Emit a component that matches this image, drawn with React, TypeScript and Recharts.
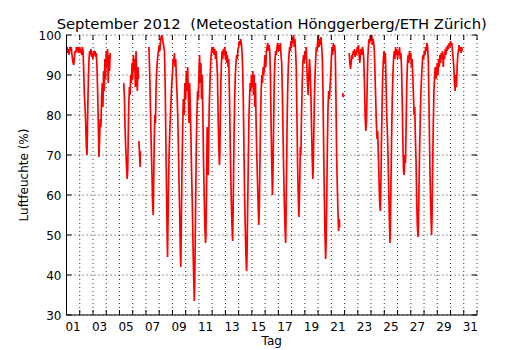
import { LineChart, Line, XAxis, YAxis, CartesianGrid } from "recharts";

// plot frame, in page pixels
const W = 530;
const H = 350;
const PLOT_LEFT = 66.5;
const PLOT_TOP = 35;
const PLOT_RIGHT = 477;
const PLOT_BOTTOM = 315;
const TICK_LEN = 5;
const FONT = "'DejaVu Sans', sans-serif";

const TITLE = "September 2012  (Meteostation Hönggerberg/ETH Zürich)";
const Y_LABEL = "Luftfeuchte (%)";
const X_LABEL = "Tag";

// x is days since 1 Sep 00:00, day boundaries get ticks, labels sit at noon
const dayTicks = Array.from({ length: 32 }, (_, i) => i);
const dayLabels = ["01", "03", "05", "07", "09", "11", "13", "15", "17", "19", "21", "23", "25", "27", "29", "31"];
const humidityTicks = [30, 40, 50, 60, 70, 80, 90, 100];

// (time in days, relative humidity in %), null = gap
const times = [
  0.0, 0.05, 0.1, 0.15, 0.2, 0.25, 0.3, 0.35, 0.4, 0.45, 0.5, 0.55, 0.6, 0.65, 0.7, 0.75, 0.8, 0.85, 0.9, 0.95,
  1.0, 1.05, 1.1, 1.15, 1.2, 1.25, 1.3, 1.35, 1.4, 1.45, 1.5, 1.55, 1.58, 1.62, 1.66, 1.7, 1.75, 1.8, 1.85, 1.9, 1.95,
  2.0, 2.05, 2.1, 2.15, 2.2, 2.25, 2.3, 2.35, 2.4, 2.45, 2.5, 2.55, 2.6, 2.65, 2.7, 2.75, 2.8, 2.85, 2.9, 2.95,
  3.0, 3.05, 3.1, 3.15, 3.2, 3.25, 3.3, 3.7,
  4.32, 4.38, 4.42, 4.47, 4.52, 4.58, 4.62, 4.66, 4.7, 4.75, 4.8, 4.85, 4.9, 4.95,
  5.0, 5.05, 5.1, 5.15, 5.2, 5.25, 5.3, 5.35, 5.4, 5.43, 5.45, 5.47, 5.52, 5.56, 5.58, 5.9,
  6.22, 6.26, 6.3, 6.35, 6.4, 6.45, 6.5, 6.55, 6.58, 6.62, 6.67, 6.72, 6.76, 6.8, 6.85, 6.9, 6.95,
  7.0, 7.05, 7.1, 7.15, 7.2, 7.25, 7.3, 7.35, 7.4, 7.45, 7.5, 7.55, 7.6, 7.63, 7.66, 7.7, 7.75, 7.8, 7.85, 7.9, 7.95,
  8.0, 8.05, 8.1, 8.15, 8.2, 8.25, 8.3, 8.35, 8.4, 8.45, 8.5, 8.55, 8.6, 8.63, 8.67, 8.72, 8.77, 8.82, 8.88, 8.94,
  9.0, 9.05, 9.1, 9.15, 9.2, 9.25, 9.3, 9.35, 9.4, 9.45, 9.5, 9.55, 9.6, 9.65, 9.68, 9.72, 9.76, 9.8, 9.85, 9.9, 9.95,
  10.0, 10.05, 10.1, 10.15, 10.2, 10.25, 10.3, 10.35, 10.4, 10.45, 10.5, 10.53, 10.58, 10.62, 10.66, 10.7, 10.74, 10.78, 10.85, 10.9, 10.95,
  11.0, 11.05, 11.1, 11.15, 11.2, 11.25, 11.3, 11.35, 11.4, 11.45, 11.5, 11.55, 11.58, 11.62, 11.66, 11.7, 11.75, 11.8, 11.85, 11.9, 11.95,
  12.0, 12.05, 12.1, 12.15, 12.2, 12.25, 12.3, 12.35, 12.4, 12.45, 12.5, 12.55, 12.58, 12.62, 12.66, 12.7, 12.75, 12.8, 12.85, 12.9, 12.95,
  13.0, 13.05, 13.1, 13.15, 13.2, 13.25, 13.3, 13.35, 13.4, 13.45, 13.5, 13.55, 13.6, 13.63, 13.67, 13.72, 13.77, 13.82, 13.87, 13.92, 13.97,
  14.02, 14.07, 14.12, 14.17, 14.22, 14.27, 14.32, 14.37, 14.42, 14.47, 14.52, 14.56, 14.6, 14.65, 14.7, 14.75, 14.8, 14.85, 14.9, 14.95,
  15.0, 15.05, 15.1, 15.15, 15.2, 15.25, 15.3, 15.35, 15.4, 15.45, 15.5, 15.55, 15.58, 15.62, 15.66, 15.7, 15.75, 15.8, 15.85, 15.9, 15.95,
  16.0, 16.05, 16.1, 16.15, 16.2, 16.25, 16.3, 16.35, 16.4, 16.45, 16.5, 16.55, 16.58, 16.62, 16.66, 16.7, 16.75, 16.8, 16.85, 16.9, 16.95,
  17.0, 17.05, 17.1, 17.15, 17.2, 17.25, 17.3, 17.35, 17.4, 17.45, 17.5, 17.55, 17.58, 17.62, 17.66, 17.7, 17.75, 17.8, 17.85, 17.9, 17.95,
  18.0, 18.05, 18.1, 18.15, 18.2, 18.25, 18.3, 18.35, 18.4, 18.45, 18.5, 18.55, 18.6, 18.63, 18.68, 18.72, 18.77, 18.82, 18.87, 18.92, 18.97,
  19.02, 19.07, 19.12, 19.17, 19.22, 19.27, 19.32, 19.37, 19.42, 19.47, 19.52, 19.57, 19.6, 19.65, 19.7, 19.75, 19.8, 19.85, 19.9, 19.95,
  20.0, 20.05, 20.1, 20.15, 20.2, 20.25, 20.3, 20.35, 20.4, 20.45, 20.5, 20.55, 20.6, 20.63, 20.7, 20.85, 20.9, 20.95, 21.1,
  21.35, 21.4, 21.45, 21.5, 21.55, 21.6, 21.65, 21.7, 21.75, 21.8, 21.85, 21.9, 21.95,
  22.0, 22.05, 22.1, 22.15, 22.2, 22.25, 22.3, 22.35, 22.4, 22.45, 22.5, 22.55, 22.6, 22.65, 22.7, 22.75, 22.8, 22.85, 22.9, 22.95,
  23.0, 23.05, 23.1, 23.15, 23.2, 23.25, 23.3, 23.35, 23.4, 23.45, 23.5, 23.55, 23.6, 23.65, 23.7, 23.73, 23.78, 23.83, 23.88, 23.93, 23.98,
  24.03, 24.08, 24.13, 24.18, 24.23, 24.28, 24.33, 24.38, 24.43, 24.46, 24.5, 24.55, 24.6, 24.65, 24.7, 24.75, 24.8, 24.85, 24.9, 24.95,
  25.0, 25.05, 25.1, 25.15, 25.2, 25.25, 25.3, 25.35, 25.4, 25.45, 25.5, 25.55, 25.6, 25.65, 25.7, 25.75, 25.8, 25.85, 25.9, 25.95,
  26.0, 26.05, 26.1, 26.15, 26.2, 26.25, 26.3, 26.35, 26.4, 26.45, 26.5, 26.55, 26.58, 26.62, 26.67, 26.72, 26.77, 26.82, 26.87, 26.92, 26.97,
  27.02, 27.07, 27.12, 27.17, 27.22, 27.27, 27.32, 27.37, 27.42, 27.47, 27.52, 27.57, 27.6, 27.65, 27.7, 27.75, 27.8, 27.85, 27.9, 27.95,
  28.0, 28.05, 28.1, 28.15, 28.2, 28.25, 28.3, 28.35, 28.4, 28.45, 28.5, 28.55, 28.6, 28.65, 28.7, 28.75, 28.8, 28.85, 28.9, 28.95,
  29.0, 29.05, 29.1, 29.15, 29.2, 29.25, 29.3, 29.35, 29.4, 29.45, 29.5, 29.55, 29.6, 29.65, 29.7, 29.75, 29.8, 29.85, 29.88,
];

const humidity: (number | null)[] = [
  96, 97, 95.5, 96.5, 95, 97, 96, 97, 95.5, 94, 93, 92.5, 94.5, 96, 95.5, 97, 96, 97, 95.5, 96.5,
  97, 95.5, 96.5, 95, 97, 96, 91, 85, 82, 78, 72, 70, 76, 84, 90, 94, 96, 95, 96.5, 94.5, 95.5,
  94, 96, 95, 96, 94.5, 95.5, 92, 86, 78, 69.5, 74, 79, 77, 84, 88, 82, 91, 86, 94, 89,
  96, 92, 96.5, 88, 95, 91, 95.5, null,
  88, 84, 77, 72, 68, 64, 66, 74, 82, 87, 85, 90, 88, 93,
  89, 95, 91, 94, 87, 96, 90, 86, 92, 89, null, 73.5, 70, 67, 71, null,
  97, 93, 88, 80, 72, 66, 58, 55, 62, 72, 80, 78, 86, 90, 93, 95, 96,
  97.5, 96, 98.5, 99.5, 100, 99, 98, 97, 96, 88, 75, 62, 50, 44.5, 52, 62, 70, 76, 80, 84, 88,
  90, 94, 93, 95.5, 92, 94, 89, 85, 80, 72, 63, 55, 45, 42, 52, 66, 76, 84, 80, 88,
  84, 91, 86, 92, 85, 78, 88, 82, 74, 65, 58, 48, 40, 33.5, 38, 48, 60, 72, 80, 86, 84,
  90, 95, 88, 93, 84, 90, 80, 68, 60, 52, 48, 50, 62, 77, 70, 65, 74, 82, 90, 94, 96,
  97, 95.5, 97, 95, 96.5, 94, 96, 93, 90, 80, 72, 67.5, 70, 80, 88, 93, 96, 94, 96.5, 95, 97,
  94, 96, 93, 95, 92, 94, 86, 76, 66, 58, 52, 48.5, 55, 66, 76, 84, 90, 93, 95, 94, 96.5,
  97, 98.5, 97.5, 99, 98, 96, 92, 84, 72, 60, 52, 45, 41, 44, 54, 66, 78, 84, 88, 86, 90,
  87, 91, 85, 90, 82, 88, 78, 70, 64, 58, 52.5, 56, 66, 78, 86, 90, 88, 92, 90, 93,
  95, 92, 96, 97, 98, 96, 97.5, 96, 90, 78, 68, 60, 63, 72, 82, 90, 94, 96, 95, 97, 98,
  96, 97.5, 96, 98, 95, 93, 86, 76, 66, 58, 52, 48, 54, 66, 78, 86, 92, 95, 97, 96, 98.5,
  97, 99.5, 98, 100, 97, 99, 96, 92, 80, 68, 60, 54.5, 58, 64, 72, 70, 80, 88, 93, 95, 93,
  96, 94, 97, 92, 88, 85, 90, 94, 91, 86, 78, 70, 64, 66, 76, 84, 90, 94, 97, 96, 98.5,
  100, 97, 99, 97.5, 99.5, 97, 94, 86, 72, 60, 50, 44, 47, 58, 72, 82, 86, 84, 87, 90,
  94, 97, 95, 98, 96, 97.5, 95, 84, 70, 62, 56, 51, 54, 52, null, 85.5, 84.5, 85, null,
  95.5, 93, 91.5, 93, 95, 94, 96, 95, 96.5, 94.5, 96, 95, 97,
  96, 97.5, 95, 93, 95.5, 96.5, 95, 97, 96, 94, 88, 80, 76, 78, 86, 94, 97, 99, 98, 100,
  98.5, 100, 97.5, 99, 98, 96, 90, 84, 78, 74, 76, 70, 64, 58, 56, 60, 72, 82, 90, 94, 96,
  93, 95.5, 88, 80, 76, 70, 62, 54, 48, 52, 62, 74, 84, 90, 94, 96, 94, 97, 95, 96.5,
  94, 96, 95, 97, 94, 95.5, 92, 84, 74, 66, 65, 70, 68, 78, 88, 93, 95, 93, 96, 94,
  95.5, 92, 94, 90, 85, 80, 82, 74, 68, 58, 52, 49.5, 53, 62, 72, 80, 86, 90, 93, 95, 94,
  96, 95, 97, 96, 98, 97, 94, 84, 72, 62, 55, 50, 54, 66, 78, 86, 90, 92, 89, 91,
  93, 90, 94, 92, 95, 93, 95.5, 94, 96, 92, 95, 94, 96.5, 95, 97, 96, 97.5, 96.5, 98, 97,
  98.5, 97.5, 98, 96, 94, 92, 88, 86, 90, 87, 92, 95, 96, 97.5, 96, 97, 95.5, 97, 96,
];

const data = times.map((t, i) => ({ t, rh: humidity[i] }));

const halfDay = (PLOT_RIGHT - PLOT_LEFT) / 31 / 2;

const DayTick = (props: any) => {
  const { x, payload } = props;
  const d = payload.value as number;
  const label = d % 2 === 0 && d < 31 ? dayLabels[d / 2] : null;
  return (
    <g>
      <line x1={x} x2={x} y1={PLOT_BOTTOM} y2={PLOT_BOTTOM - TICK_LEN} stroke="#000" />
      <line x1={x} x2={x} y1={PLOT_TOP} y2={PLOT_TOP + TICK_LEN} stroke="#000" />
      {label && (
        <text x={x + halfDay} y={PLOT_BOTTOM + 16} textAnchor="middle" fontSize={12} fontFamily={FONT} fill="#000">
          {label}
        </text>
      )}
    </g>
  );
};

const HumidityTick = (props: any) => {
  const { y, payload } = props;
  return (
    <g>
      <line x1={PLOT_LEFT} x2={PLOT_LEFT + TICK_LEN} y1={y} y2={y} stroke="#000" />
      <line x1={PLOT_RIGHT} x2={PLOT_RIGHT - TICK_LEN} y1={y} y2={y} stroke="#000" />
      <text x={PLOT_LEFT - 5} y={y + 4.5} textAnchor="end" fontSize={12} fontFamily={FONT} fill="#000">
        {payload.value}
      </text>
    </g>
  );
};

export default function App() {
  return (
    <div style={{ position: "absolute", left: 0, top: 0, width: W, height: H, background: "#fff" }}>
      <LineChart
        width={W}
        height={H}
        data={data}
        margin={{ top: PLOT_TOP, right: W - PLOT_RIGHT, bottom: 0, left: 0 }}
      >
        <CartesianGrid stroke="#000" strokeWidth={0.8} strokeDasharray="1 3" />
        <XAxis
          dataKey="t"
          type="number"
          domain={[0, 31]}
          ticks={dayTicks}
          interval={0}
          height={H - PLOT_BOTTOM}
          allowDataOverflow
          stroke="#000"
          tickLine={false}
          tick={<DayTick />}
        />
        <XAxis xAxisId="top" orientation="top" type="number" domain={[0, 31]} height={0} stroke="#000" tick={false} tickLine={false} />
        <YAxis
          type="number"
          domain={[30, 100]}
          ticks={humidityTicks}
          interval={0}
          width={PLOT_LEFT}
          allowDataOverflow
          stroke="#000"
          tickLine={false}
          tick={<HumidityTick />}
        />
        <YAxis yAxisId="right" orientation="right" type="number" domain={[30, 100]} width={0} stroke="#000" tick={false} tickLine={false} />
        <Line
          type="linear"
          dataKey="rh"
          stroke="#ff0000"
          strokeWidth={1.7}
          dot={false}
          connectNulls={false}
          isAnimationActive={false}
        />
      </LineChart>
      <svg width={W} height={H} style={{ position: "absolute", left: 0, top: 0, pointerEvents: "none" }}>
        <text
          x={(PLOT_LEFT + PLOT_RIGHT) / 2}
          y={28.5}
          textAnchor="middle"
          fontSize={14.8}
          fontFamily={FONT}
          fill="#000"
          style={{ whiteSpace: "pre" }}
        >
          {TITLE}
        </text>
        <text x={(PLOT_LEFT + PLOT_RIGHT) / 2} y={345} textAnchor="middle" fontSize={12} fontFamily={FONT} fill="#000">
          {X_LABEL}
        </text>
        <text
          transform={`translate(28, ${(PLOT_TOP + PLOT_BOTTOM) / 2}) rotate(-90)`}
          textAnchor="middle"
          fontSize={12}
          fontFamily={FONT}
          fill="#000"
        >
          {Y_LABEL}
        </text>
      </svg>
    </div>
  );
}
